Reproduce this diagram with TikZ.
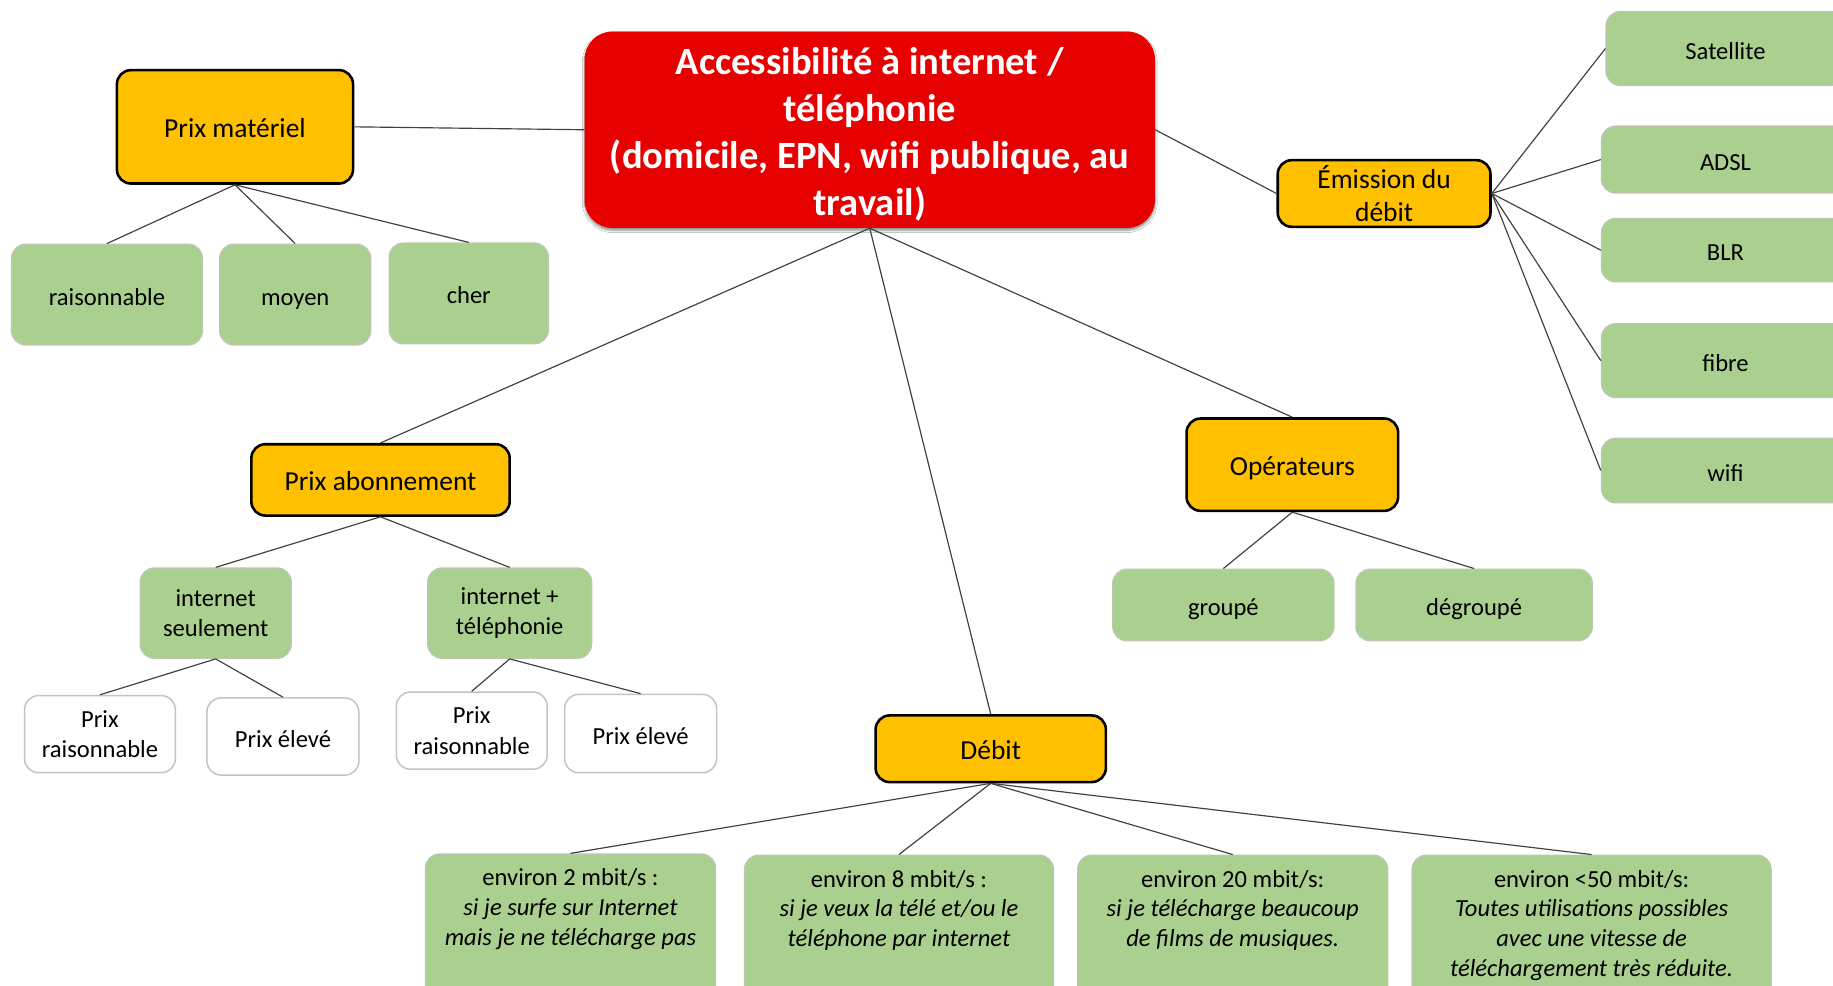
\documentclass[tikz,border=0pt]{standalone}
\usepackage{fontspec}
\setmainfont{Carlito}
\usetikzlibrary{shadows.blur}
\definecolor{topred}{HTML}{E60000}
\definecolor{gold}{HTML}{FFC000}
\definecolor{leaf}{HTML}{A9D08E}
\definecolor{leafedge}{HTML}{B9C8AE}
\definecolor{paleedge}{HTML}{C4C4C4}
\definecolor{linkgray}{HTML}{404040}
\tikzset{
  x=1pt, y=-1pt,
  wh/.style 2 args={minimum width=#1pt, minimum height=#2pt},
  base/.style={rounded corners=12pt, align=center, inner sep=0pt,
    font=\fontsize{21}{26}\selectfont},
  oneline/.style={text height=23pt, text depth=5pt},
  rootbox/.style={base, fill=topred, rounded corners=24pt, text=white,
    font=\fontsize{33}{40}\selectfont\bfseries,
    blur shadow={shadow xshift=0pt, shadow yshift=-2pt, shadow blur steps=6, shadow opacity=45}},
  catbox/.style={base, fill=gold, draw=black, line width=2.2pt,
    font=\fontsize{23.5}{28}\selectfont},
  leafbox/.style={base, fill=leaf, draw=leafedge, line width=1.3pt},
  pricebox/.style={base, fill=white, draw=paleedge, line width=1.3pt},
  link/.style={draw=linkgray, line width=1pt},
  descr/.style={align=center, inner sep=0pt, font=\fontsize{21}{25.5}\selectfont},
}
\begin{document}
\begin{tikzpicture}
\useasboundingbox (0,0) rectangle (1568,843);
\clip (0,0) rectangle (1568,843);
\fill[white] (0,0) rectangle (1568,843);

% central topic
\node[rootbox, wh={488}{168}] (root) at (744,111)
  {\rule{0pt}{31pt}Accessibilité à internet /\\téléphonie\\(domicile, EPN, wifi publique, au\\travail)};

% equipment price
\node[catbox, oneline, wh={202}{97}] (pm) at (201,108.5) {Prix matériel};
\node[leafbox, oneline, wh={163}{86}] (pm1) at (91.5,252) {raisonnable};
\node[leafbox, oneline, wh={129}{86}] (pm2) at (252.5,252) {moyen};
\node[leafbox, oneline, wh={136}{86}] (pm3) at (401,251) {cher};

% transmission
\node[catbox, wh={182}{57}] (em) at (1184,165.5) {Émission du\\débit};
\node[leafbox, oneline, wh={204}{63}] (em1) at (1476,41.5) {Satellite};
\node[leafbox, oneline, wh={212}{57}] (em2) at (1476,136.5) {ADSL};
\node[leafbox, oneline, wh={212}{54}] (em3) at (1476,214) {BLR};
\node[leafbox, oneline, wh={212}{63}] (em4) at (1476,308.5) {fibre};
\node[leafbox, oneline, wh={212}{55}] (em5) at (1476,402.5) {wifi};

% subscription price
\node[catbox, oneline, wh={221}{61}] (pa) at (325.5,410.5) {Prix abonnement};
\node[leafbox, wh={129}{77}] (pa1) at (184.5,524.5) {internet\\seulement};
\node[leafbox, wh={140}{77}] (pa2) at (436,524.5) {internet +\\téléphonie};
\node[pricebox, wh={129}{66}] (pa11) at (85.5,628) {Prix\\raisonnable};
\node[pricebox, oneline, wh={130}{66}] (pa12) at (242,630) {Prix élevé};
\node[pricebox, wh={129}{66}] (pa21) at (403.5,625) {Prix\\raisonnable};
\node[pricebox, oneline, wh={130}{67}] (pa22) at (548,627.5) {Prix élevé};

% operators
\node[catbox, oneline, wh={181}{79}] (op) at (1105.5,397.5) {Opérateurs};
\node[leafbox, oneline, wh={189}{61}] (op1) at (1046.5,517.5) {groupé};
\node[leafbox, oneline, wh={202}{61}] (op2) at (1261,517.5) {dégroupé};

% bandwidth
\node[catbox, oneline, wh={197}{57}] (db) at (847.5,640.5) {Débit};
\node[leafbox, wh={248}{140}, anchor=north] (db1) at (488,730) {};
\node[leafbox, wh={264}{140}, anchor=north] (db2) at (769,731) {};
\node[leafbox, wh={265}{140}, anchor=north] (db3) at (1054.5,731) {};
\node[leafbox, wh={307}{140}, anchor=north] (db4) at (1361.5,731) {};
\node[descr, anchor=north] (t1) at ([yshift=-13pt]db1.north)
  {environ 2 mbit/s :\\\itshape si je surfe sur Internet\\\itshape mais je ne télécharge pas};
\node[descr, anchor=north] (t2) at ([yshift=-13pt]db2.north)
  {environ 8 mbit/s :\\\itshape si je veux la télé et/ou le\\\itshape téléphone par internet};
\node[descr, anchor=north] (t3) at ([yshift=-13pt]db3.north)
  {environ 20 mbit/s:\\\itshape si je télécharge beaucoup\\\itshape de films de musiques.};
\node[descr, anchor=north] (t4) at ([yshift=-13pt]db4.north)
  {environ <50 mbit/s:\\\itshape Toutes utilisations possibles\\\itshape avec une vitesse de\\\itshape téléchargement très réduite.};

% connectors
\path[link] (root.west) -- (pm.east);
\path[link] (pm.south) -- (pm1.north);
\path[link] (pm.south) -- (pm2.north);
\path[link] (pm.south) -- (pm3.north);
\path[link] (root.east) -- (em.west);
\path[link] (em.east) -- (em1.west);
\path[link] (em.east) -- (em2.west);
\path[link] (em.east) -- (em3.west);
\path[link] (em.east) -- (em4.west);
\path[link] (em.east) -- (em5.west);
\path[link] (root.south) -- (pa.north);
\path[link] (root.south) -- (db.north);
\path[link] (root.south) -- (op.north);
\path[link] (pa.south) -- (pa1.north);
\path[link] (pa.south) -- (pa2.north);
\path[link] (pa1.south) -- (pa11.north);
\path[link] (pa1.south) -- (pa12.north);
\path[link] (pa2.south) -- (pa21.north);
\path[link] (pa2.south) -- (pa22.north);
\path[link] (op.south) -- (op1.north);
\path[link] (op.south) -- (op2.north);
\path[link] (db.south) -- (db1.north);
\path[link] (db.south) -- (db2.north);
\path[link] (db.south) -- (db3.north);
\path[link] (db.south) -- (db4.north);
\end{tikzpicture}
\end{document}
